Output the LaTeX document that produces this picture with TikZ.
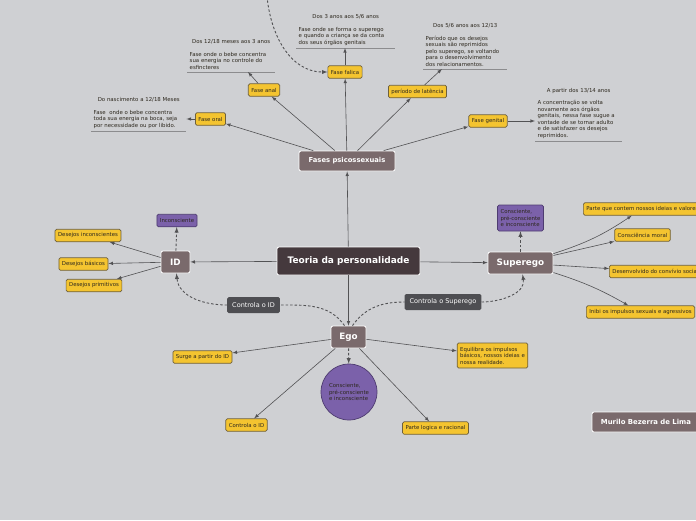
\documentclass[tikz,border=0pt]{standalone}
\usepackage{fontspec}
\setmainfont{DejaVu Sans}
\usepackage{xcolor}
\usepackage{tikz}
\setlength{\parindent}{0pt}

\definecolor{bgc}{RGB}{207,208,211}
\definecolor{leafc}{RGB}{244,196,48}
\definecolor{leafedge}{RGB}{110,96,60}
\definecolor{moodc}{RGB}{123,97,170}
\definecolor{moodedge}{RGB}{78,60,112}
\definecolor{topicc}{RGB}{122,106,108}
\definecolor{rootc}{RGB}{69,57,61}
\definecolor{tagc}{RGB}{78,78,82}
\definecolor{linkc}{RGB}{82,82,84}
\definecolor{rulec}{RGB}{140,140,142}
\definecolor{ink}{RGB}{45,40,30}

\begin{document}
\begin{tikzpicture}[>=latex, x=1pt, y=-1pt,
  every node/.style={font=\fontsize{5.4}{6.5}\selectfont},
  leaf/.style={draw=leafedge, fill=leafc, text=ink, rounded corners=1.5pt, line width=0.7pt,
    inner xsep=3pt, inner ysep=0pt, minimum height=12.5pt},
  mood/.style={leaf, draw=moodedge, fill=moodc, align=left},
  topic/.style={draw=white, fill=topicc, text=white, rounded corners=2pt, line width=0.8pt,
    inner sep=0pt, font=\bfseries\fontsize{8.8}{10}\selectfont},
  tag/.style={fill=tagc, text=white, rounded corners=1.5pt, inner xsep=5pt, inner ysep=0pt,
    minimum height=16pt, font=\fontsize{6.5}{8}\selectfont},
  note/.style={align=left, anchor=south west, inner sep=2.5pt, text=ink},
  rule/.style={draw=rulec, line width=0.6pt},
  link/.style={draw=linkc, line width=0.6pt},
  hint/.style={draw=linkc, line width=0.9pt, dash pattern=on 2.5pt off 2pt}]

  \fill [bgc] (0,0) rectangle (696,520);
  \clip (0,0) rectangle (696,520);

  \node [topic, fill=rootc, minimum width=143pt, minimum height=28pt,
    font=\bfseries\fontsize{9}{11}\selectfont] (T) at (348.5,261) {Teoria da personalidade};
  \node [topic, minimum width=96pt, minimum height=20pt,
    font=\bfseries\fontsize{6.8}{8}\selectfont] (F) at (347,161) {Fases psicossexuais};
  \node [topic, minimum width=29pt, minimum height=22pt] (I) at (175.5,262) {ID};
  \node [topic, minimum width=65pt, minimum height=22pt] (S) at (520.5,263) {Superego};
  \node [topic, minimum width=35pt, minimum height=22pt] (E) at (348.5,337) {Ego};
  \node [topic, minimum width=108pt, minimum height=20pt,
    font=\bfseries\fontsize{6.9}{8}\selectfont] (M) at (646,422) {Murilo Bezerra de Lima};

  \node [tag] (C1) at (253.5,305) {Controla o ID};
  \node [tag] (C2) at (443,302) {Controla o Superego};

  \node [leaf] (F1) at (210.5,119) {Fase oral};
  \node [leaf] (F2) at (264,90) {Fase anal};
  \node [leaf] (F3) at (345,72) {Fase falica};
  \node [leaf] (F4) at (417.5,91.5) {período de latência};
  \node [leaf] (F5) at (488,121) {Fase genital};

  \node [note, text width=90pt] (N1) at (91,131)
    {\makebox[\hsize]{Do nascimento a 12/18 Meses}\\[6pt]
     Fase~ onde o bebe concentra\\toda sua energia na boca, seja\\por necessidade ou por libido.};
  \node [note, text width=83pt] (N2) at (187,72)
    {\makebox[\hsize]{Dos 12/18 meses aos 3 anos}\\[6pt]
     Fase onde o bebe concentra\\sua energia no controle do\\esfincteres};
  \node [note, text width=94pt] (N3) at (296,48)
    {\makebox[\hsize]{Dos 3 anos aos 5/6 anos}\\[6pt]
     Fase onde se forma o superego\\e quando a criança se da conta\\dos seus órgãos genitais};
  \node [note, text width=79pt] (N4) at (423,69)
    {\makebox[\hsize]{Dos 5/6 anos aos 12/13}\\[6pt]
     Período que os desejos\\sexuais são reprimidos\\pelo superego, se voltando\\para o desenvolvimento\\dos relacionamentos.};
  \node [note, text width=82pt] (N5) at (535,141)
    {\makebox[\hsize]{A partir dos 13/14 anos}\\[6pt]
     A concentração se volta\\novamente aos órgãos\\genitais, nessa fase sugue a\\vontade de se tornar adulto\\e de satisfazer os desejos\\reprimidos.};

  \node [leaf] (I1) at (88,235.5) {Desejos inconscientes};
  \node [leaf] (I2) at (83.5,264) {Desejos básicos};
  \node [leaf] (I3) at (94,285.5) {Desejos primitivos};
  \node [mood] (I0) at (177,220.5) {Inconsciente};

  \node [mood, minimum height=26pt] (S0) at (520.5,218) {Consciente,\\pré-consciente\\e inconsciente};
  \node [leaf, anchor=west] (S1) at (583,209) {Parte que contem nossos ideias e valores};
  \node [leaf] (S2) at (642.5,235) {Consciência moral};
  \node [leaf, anchor=west] (S3) at (609,271.5) {Desenvolvido do convívio social};
  \node [leaf, anchor=west] (S4) at (586,312) {Inibi os impulsos sexuais e agressivos};

  \node [leaf] (E1) at (202.5,357) {Surge a partir do ID};
  \node [leaf] (E2) at (246.5,425) {Controla o ID};
  \node [leaf] (E3) at (435.5,428) {Parte logica e racional};
  \node [leaf, align=left, minimum height=25pt] (E4) at (492.5,355.5)
    {Equilibra os impulsos\\básicos, nossos ideias e\\nossa realidade.};
  \node [mood, circle, minimum size=56pt, inner sep=0pt] (E5) at (349,392)
    {Consciente,\\pré-consciente\\e inconsciente};

  \coordinate (U) at (267,-4);

  \foreach \n in {1,...,5} \draw [rule] (N\n.south west) -- (N\n.south east);

  \draw [->,link] (T) -- (F);
  \draw [->,link] (T) -- (I);
  \draw [->,link] (T) -- (S);
  \draw [->,link] (T) -- (E);

  \foreach \n in {F1,F2,F3,F4,F5} \draw [->,link] (F) -- (\n);
  \draw [->,link] (F1.west) -- (F1.west -| N1.east);
  \draw [->,link] (F2) -- (N2.south -| F2.north west);
  \draw [->,link] (F3) -- (F3 |- N3.south);
  \draw [->,link] (F4) -- ([xshift=-5pt]N4.south -| F4.east);
  \draw [->,link] (F5) -- (F5 -| N5.west);
  \draw [->,hint] (U) to[out=-85,in=180] (F3);

  \foreach \n in {I1,I2,I3} \draw [->,link] (I) -- (\n);
  \draw [->,hint] (I) -- (I0);

  \draw [->,hint] (S) -- (S0);
  \draw [->,link] (S) to[bend right=8] (S1);
  \draw [->,link] (S) -- (S2);
  \draw [->,link] (S) -- (S3);
  \draw [->,link] (S) to[bend left=6] (S4);

  \foreach \n in {E1,E2,E3,E4} \draw [->,link] (E) -- (\n);
  \draw [->,hint] (E) -- (E5);

  \draw [hint] ([xshift=-4pt]E.north) to[out=125,in=0] (C1);
  \draw [->,hint] (C1) to[out=180,in=-85] (I);
  \draw [hint] ([xshift=4pt]E.north) to[out=55,in=180] (C2);
  \draw [->,hint] (C2) to[out=0,in=-80] (S);
\end{tikzpicture}
\end{document}
